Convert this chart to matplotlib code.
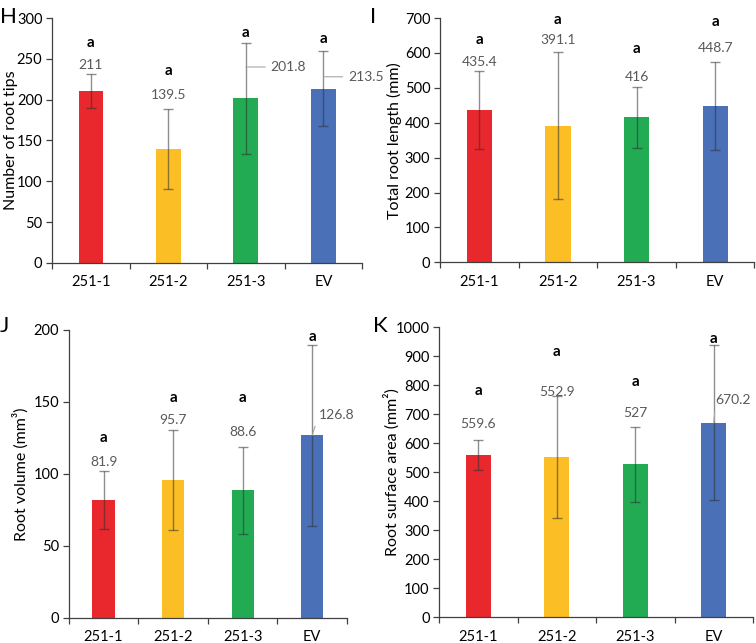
import matplotlib
matplotlib.use('Agg')
import matplotlib.pyplot as plt
import numpy as np

plt.rcParams['font.family'] = ['Lato', 'DejaVu Sans']

groups = ['251-1', '251-2', '251-3', 'EV']
colors = ['#E8282D', '#FCBE25', '#22AB53', '#4A70B8']

# H - number of root tips
tips_mean = [211, 139.5, 201.8, 213.5]
tips_err = [21, 48.5, 68, 46]
# I - total root length (mm)
length_mean = [435.4, 391.1, 416, 448.7]
length_err = [112, 211, 87, 126]
# J - root volume (mm3)
volume_mean = [81.9, 95.7, 88.6, 126.8]
volume_err = [20, 35, 30, 63]
# K - root surface area (mm2)
area_mean = [559.6, 552.9, 527, 670.2]
area_err = [51, 211, 130, 267]

sig_letters = ['a', 'a', 'a', 'a']

# placement of the letters and value labels (data units)
tips_letter_y = [270, 235, 282, 274]
tips_label = [(0, 243), (0, 206), (0.55, 240), (0.55, 228)]
length_letter_y = [636, 693, 610, 688]
length_label = [(0, 573), (0, 636), (0, 530), (0, 613)]
volume_letter_y = [125, 153, 153, 195]
volume_label = [(0, 108), (0, 137.5), (0, 129), (0.35, 141)]
area_letter_y = [779, 914, 810, 959]
area_label = [(0, 665), (0, 776), (0, 703), (0.25, 748)]

panels = [
    ('H', [0.069, 0.591, 0.410, 0.381], tips_mean, tips_err, tips_letter_y, tips_label,
     'Number of root tips', 300, 50, (0.0, 0.973), -0.11),
    ('I', [0.582, 0.592, 0.416, 0.380], length_mean, length_err, length_letter_y, length_label,
     'Total root length (mm)', 700, 100, (0.490, 0.973), -0.12),
    ('J', [0.091, 0.039, 0.368, 0.448], volume_mean, volume_err, volume_letter_y, volume_label,
     'Root volume (mm³)', 200, 50, (0.0, 0.493), -0.144),
    ('K', [0.581, 0.040, 0.415, 0.451], area_mean, area_err, area_letter_y, area_label,
     'Root surface area (mm²)', 1000, 100, (0.494, 0.493), -0.127),
]

fig = plt.figure(figsize=(7.56, 6.43), dpi=100)
x = np.arange(len(groups))

for tag, rect, mean, err, let_y, lab, ylabel, ymax, step, tagpos, labx in panels:
    ax = fig.add_axes(rect)
    ax.bar(x, mean, width=0.32, color=colors, zorder=2)
    ax.errorbar(x, mean, yerr=err, fmt='none', ecolor='#303030', alpha=0.55,
                elinewidth=1.0, capsize=3.5, capthick=1.0, zorder=3)
    for i in range(len(groups)):
        ax.text(x[i], let_y[i], sig_letters[i], ha='center', va='center',
                fontsize=11, fontweight='bold', color='black')
        dx, ly = lab[i]
        if dx == 0:
            ax.text(x[i], ly, f'{mean[i]:g}', ha='center', va='center',
                    fontsize=10, color='#595959')
        else:
            # label moved aside, joined by a leader line
            anchor = mean[i] if tag in 'JK' else ly
            ax.annotate(f'{mean[i]:g}', xy=(x[i], anchor), xytext=(x[i] + dx, ly),
                        ha='center', va='center', fontsize=10, color='#595959',
                        arrowprops=dict(arrowstyle='-', color='#a6a6a6', lw=0.8,
                                        shrinkA=2, shrinkB=0, relpos=(0, 0.5)))
    ax.set_xlim(-0.5, len(groups) - 0.5)
    ax.set_ylim(0, ymax)
    ax.set_yticks(np.arange(0, ymax + 1, step))
    ax.set_xticks(x)
    ax.set_xticklabels(groups)
    ax.set_xticks(np.arange(-0.5, len(groups)), minor=True)
    ax.tick_params(axis='x', which='major', length=0, pad=9, labelsize=10.5, colors='black')
    ax.tick_params(axis='x', which='minor', length=4, width=0.9, color='#404040')
    ax.tick_params(axis='y', length=4, width=0.9, color='#404040', labelsize=10.5, pad=3)
    for s in ['top', 'right']:
        ax.spines[s].set_visible(False)
    for s in ['left', 'bottom']:
        ax.spines[s].set_color('#404040')
        ax.spines[s].set_linewidth(0.9)
    ax.set_ylabel(ylabel, fontsize=11.5)
    ax.yaxis.set_label_coords(labx, 0.5)
    fig.text(tagpos[0], tagpos[1], tag, fontsize=16, va='center', ha='left')

fig.savefig('out.png', dpi=100)
